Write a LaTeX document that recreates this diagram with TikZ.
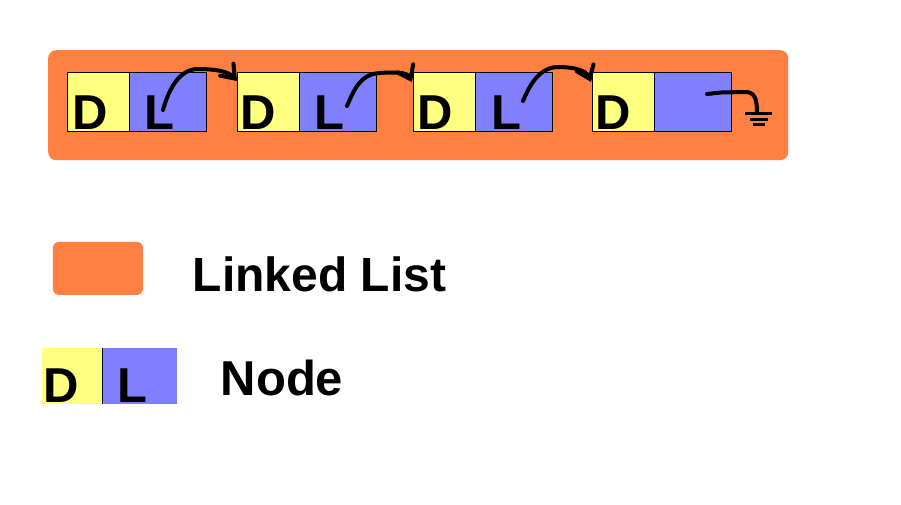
\documentclass[tikz,border=0pt]{standalone}
\usepackage{fontspec}
\setmainfont{Liberation Sans}
\usetikzlibrary{arrows.meta}
\definecolor{listorange}{RGB}{255,128,64}
\definecolor{datayellow}{RGB}{255,255,128}
\definecolor{linkblue}{RGB}{128,128,255}
\tikzset{
  cellbase/.style={anchor=north west, inner sep=0pt, outer sep=0pt, minimum height=59pt},
  dcell/.style={cellbase, fill=datayellow, draw=black, line width=1pt, minimum width=62pt},
  lcell/.style={cellbase, fill=linkblue, draw=black, line width=1pt, minimum width=77pt},
  letter/.style={anchor=base west, inner sep=0pt, font=\bfseries\fontsize{49}{50}\selectfont},
  legendtext/.style={anchor=base west, inner sep=0pt, font=\bfseries\fontsize{48}{50}\selectfont},
  link/.style={line width=4pt, line cap=round, line join=round, -{Straight Barb[length=12pt,width=18pt,line cap=round]}},
  wire/.style={line width=4pt, line cap=round, line join=round},
  gbar/.style={line width=3pt}
}
\begin{document}
\begin{tikzpicture}[x=1pt,y=-1pt]
\useasboundingbox (0,0) rectangle (901,504);
\fill[white] (0,0) rectangle (901,504);
% list background
\node[anchor=north west, fill=listorange, rounded corners=8pt, inner sep=0pt, minimum width=740pt, minimum height=110pt] (list) at (48,50) {};
% cells
\node[dcell] (d1) at (67,72) {};
\node[lcell] (l1) at (129,72) {};
\node[dcell] (d2) at (237.5,72) {};
\node[lcell] (l2) at (299.5,72) {};
\node[dcell] (d3) at (413.3,72) {};
\node[lcell] (l3) at (475.3,72) {};
\node[dcell] (d4) at (592.7,72) {};
\node[lcell] (l4) at (654.7,72) {};
% letters
\node[letter] (t1d) at (72,129.5) {D};
\node[letter] (t1l) at (144.5,129.5) {L};
\node[letter] (t2d) at (240.5,129.5) {D};
\node[letter] (t2l) at (314.5,129.5) {L};
\node[letter] (t3d) at (417,129.5) {D};
\node[letter] (t3l) at (491.5,129.5) {L};
\node[letter] (t4d) at (595.7,129.5) {D};
% link coordinates
\coordinate (s1) at (163,110);
\coordinate (e1) at (237,81);
\coordinate (s2) at (347,106);
\coordinate (e2) at (412,82);
\coordinate (s3) at (523,101);
\coordinate (e3) at (591,82);
\draw[link] (s1) .. controls (169,88) and (180,69) .. (198,69) .. controls (214,69) and (228,71) .. (e1);
\draw[link] (s2) .. controls (354,90) and (360,74) .. (380,73) .. controls (396,72) and (407,72) .. (e2);
\draw[link] (s3) .. controls (529,87) and (538,68) .. (557,67) .. controls (574,67) and (586,70) .. (e3);
% null / ground
\coordinate (g0) at (707,94);
\coordinate (g1) at (757,113);
\draw[wire] (g0) -- (721,92.5) -- (745,92) .. controls (755,92) and (757,99) .. (g1);
\draw[gbar] (745,113.3) -- (771.5,113.3);
\draw[gbar] (750,119) -- (768,119);
\draw[gbar] (753,124.5) -- (765,124.5);
% legend
\node[anchor=north west, fill=listorange, rounded corners=6pt, inner sep=0pt, minimum width=90pt, minimum height=53pt] (legendlist) at (52.7,241.7) {};
\node[legendtext] (ltext) at (192.5,291.7) {Linked List};
\node[anchor=north west, fill=datayellow, inner sep=0pt, minimum width=60.6pt, minimum height=55.6pt] (legd) at (41.7,347.7) {};
\node[anchor=north west, fill=linkblue, inner sep=0pt, minimum width=74.4pt, minimum height=55.6pt] (legl) at (102.3,347.7) {};
\draw[line width=1pt] (legl.north west) -- (legl.south west);
\node[letter] (legtd) at (43,402) {D};
\node[letter] (legtl) at (117,402) {L};
\node[legendtext, font=\bfseries\fontsize{49}{50}\selectfont] (ntext) at (220.5,395) {Node};
\end{tikzpicture}
\end{document}
